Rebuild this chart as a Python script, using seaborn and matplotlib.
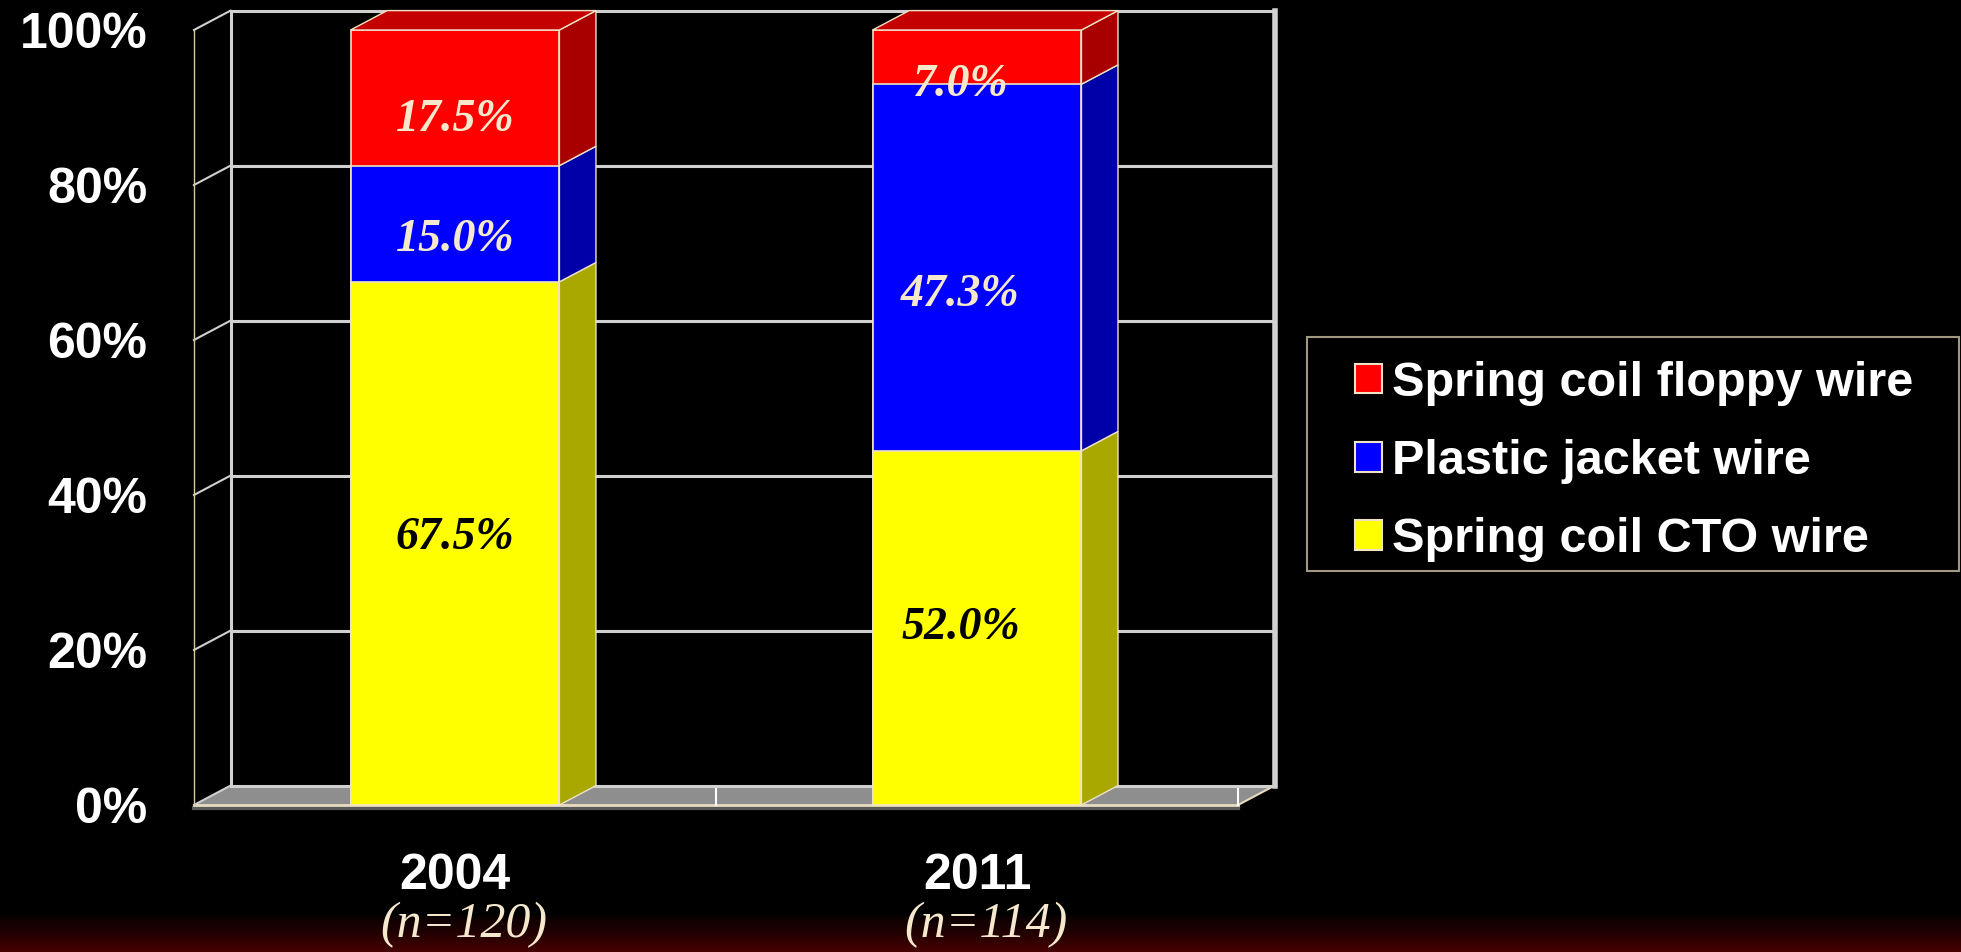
import numpy as np
import pandas as pd
import matplotlib.pyplot as plt
import seaborn as sb
from matplotlib.patches import Polygon, Rectangle, Patch
from matplotlib.colors import LinearSegmentedColormap

# datos
years = ['2004', '2011']
n_labels = ['(n=120)', '(n=114)']
cto = [67.5, 45.7]
plastic = [15.0, 47.3]
floppy = [17.5, 7.0]
cto_text = ['67.5%', '52.0%']
plastic_text = ['15.0%', '47.3%']
floppy_text = ['17.5%', '7.0%']
series = ['Spring coil floppy wire', 'Plastic jacket wire', 'Spring coil CTO wire']
yticks = [0, 20, 40, 60, 80, 100]

# ajuste fino de las etiquetas (puntos): (dx, dy) para cto, plastic, floppy
nudge = [
    [(0, 4), (0, -12), (0, -16)],
    [(-12, 0), (-12, -20), (-12, -20)],
]

# colores: frente, lado, arriba
red = ('#ff0000', '#a80000', '#c40000')
blue = ('#0000ff', '#0000a8', '#0000c0')
yellow = ('#ffff00', '#a8a800', '#c8c800')
edge = '#f0e2c4'
cream = '#f5e8cc'
grid_c = '#d0d0d0'

dataset = pd.DataFrame({'year': years, 'cto': cto, 'plastic': plastic, 'floppy': floppy})
dataset['c1'] = dataset['cto']
dataset['c2'] = dataset['c1'] + dataset['plastic']
dataset['c3'] = dataset['c2'] + dataset['floppy']

# profundidad del efecto 3D (unidades de datos)
dx, dy = 0.07, 2.5
bw = 0.4

fig = plt.figure(figsize=(19.61, 9.52), dpi=100, facecolor='black')

# franja roja oscura abajo
bg = fig.add_axes([0, 0, 1, 36 / 952], zorder=-1)
cmap = LinearSegmentedColormap.from_list('fondo', ['#0a0000', '#240000', '#460000'])
bg.imshow(np.linspace(0, 1, 50).reshape(-1, 1), aspect='auto', cmap=cmap)
bg.axis('off')

ax = fig.add_axes([0.0936, 0.1463, 0.5617, 0.8507])
ax.set_facecolor('black')

# piso
ax.add_patch(Polygon([(-0.5, 0), (1.5, 0), (1.5 + dx, dy), (-0.5 + dx, dy)],
                     closed=True, facecolor='#8e8e8e', edgecolor='none', zorder=0.4))
ax.plot([-0.5, 1.5], [-0.45, -0.45], color='#5a5a5a', lw=3, zorder=0.45)
ax.plot([-0.5, 1.5], [0, 0], color='#e8dcc0', lw=2, zorder=0.5)
ax.plot([1.5, 1.5 + dx], [0, dy], color='#e8dcc0', lw=1.5, zorder=0.5)

# pared de fondo y lineas de grade
for v in yticks:
    ax.plot([-0.5 + dx, 1.5 + dx], [v + dy, v + dy], color=grid_c, lw=2.2, zorder=0.6)
    ax.plot([-0.5, -0.5 + dx], [v, v + dy], color=grid_c, lw=1.5, zorder=0.6)
ax.plot([-0.5 + dx, -0.5 + dx], [dy, 100 + dy], color=grid_c, lw=2.2, zorder=0.6)
ax.plot([1.5 + dx, 1.5 + dx], [dy, 100 + dy], color=grid_c, lw=4, zorder=0.6)
ax.plot([-0.5, -0.5], [0, 100], color='#d8c8a0', lw=1, zorder=0.6)
for t in [0.5, 1.5]:
    ax.plot([t, t], [0, 2], color='white', lw=1.5, zorder=0.7)

# barras apiladas (frente)
sb.barplot(data=dataset, x='year', y='c3', color=red[0], width=bw, saturation=1,
           edgecolor=edge, linewidth=1.2, errorbar=None, ax=ax, zorder=2)
sb.barplot(data=dataset, x='year', y='c2', color=blue[0], width=bw, saturation=1,
           edgecolor=edge, linewidth=1.2, errorbar=None, ax=ax, zorder=2)
sb.barplot(data=dataset, x='year', y='c1', color=yellow[0], width=bw, saturation=1,
           edgecolor=edge, linewidth=1.2, errorbar=None, ax=ax, zorder=2)

lab_font = dict(ha='center', va='center', fontsize=33, fontweight='bold',
                fontstyle='italic', family='Liberation Serif', zorder=5,
                textcoords='offset points')

# lados y tapa de cada barra
for i in range(len(years)):
    xl, xr = i - bw / 2, i + bw / 2
    bottoms = [0, dataset['c1'][i], dataset['c2'][i]]
    tops = [dataset['c1'][i], dataset['c2'][i], dataset['c3'][i]]
    for b, t, col in zip(bottoms, tops, [yellow, blue, red]):
        ax.add_patch(Polygon([(xr, b), (xr + dx, b + dy), (xr + dx, t + dy), (xr, t)],
                             closed=True, facecolor=col[1], edgecolor=edge, lw=1, zorder=2.5))
    top = dataset['c3'][i]
    ax.add_patch(Polygon([(xl, top), (xl + dx, top + dy), (xr + dx, top + dy), (xr, top)],
                         closed=True, facecolor=red[2], edgecolor=edge, lw=1, zorder=2.5))

    # etiquetas
    texts = [cto_text[i], plastic_text[i], floppy_text[i]]
    colors = ['black', cream, cream]
    for k in range(3):
        mid = (bottoms[k] + tops[k]) / 2
        ax.annotate(texts[k], xy=(i, mid), xytext=nudge[i][k], color=colors[k], **lab_font)

    ax.annotate(n_labels[i], xy=(i, 0), xycoords='data', xytext=(6, -86),
                textcoords='offset points', ha='center', va='center', fontsize=36,
                fontstyle='italic', family='Liberation Serif', color=cream)

ax.set_xlim(-0.52, 1.59)
ax.set_ylim(-1, 103.5)
ax.set_xlabel('')
ax.set_ylabel('')
for s in ax.spines.values():
    s.set_visible(False)

ax.set_yticks(yticks)
ax.set_yticklabels([f'{v}%' for v in yticks])
ax.set_xticks([0, 1])
ax.set_xticklabels(years)
ax.tick_params(axis='y', length=0, pad=26, labelsize=36, labelcolor='white')
ax.tick_params(axis='x', length=0, pad=29, labelsize=36, labelcolor='white')
for lbl in ax.get_yticklabels() + ax.get_xticklabels():
    lbl.set_fontweight('bold')
    lbl.set_family('Liberation Sans')

# leyenda
handles = [Patch(facecolor=c[0], edgecolor=edge, linewidth=1.5) for c in [red, blue, yellow]]
leg = fig.legend(handles, series, loc='upper left', bbox_to_anchor=(1355 / 1961, 1 - 361 / 952),
                 frameon=False, borderpad=0, borderaxespad=0, handlelength=0.55, handleheight=0.55,
                 handletextpad=0.22, labelspacing=0.68,
                 prop={'family': 'Liberation Sans', 'weight': 'bold', 'size': 35})
for t in leg.get_texts():
    t.set_color('white')
fig.patches.append(Rectangle((1307 / 1961, 1 - 571 / 952), 652 / 1961, 234 / 952,
                             transform=fig.transFigure, fill=False, edgecolor='#a09880', lw=1.5))

fig.savefig('out.png', dpi=100, facecolor='black')
